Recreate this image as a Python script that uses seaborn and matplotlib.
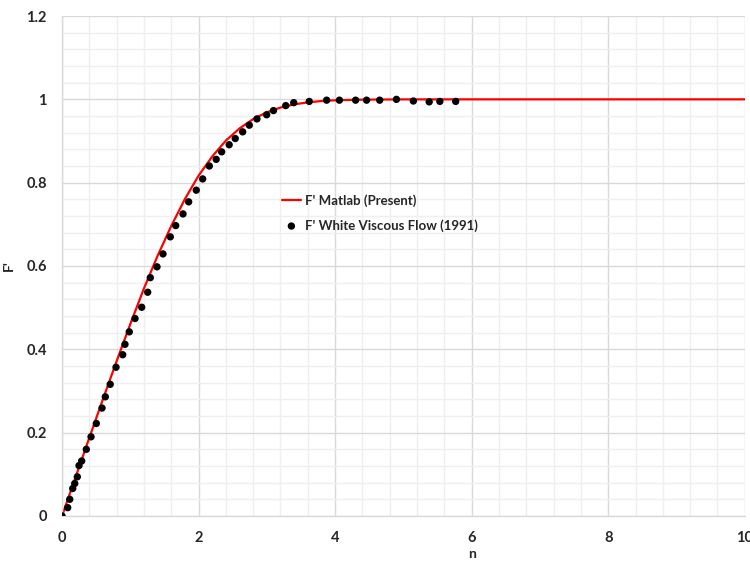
import matplotlib
matplotlib.use("Agg")
import numpy as np
import pandas as pd
import seaborn as sns
import matplotlib.pyplot as plt
from matplotlib.ticker import MultipleLocator

# F' from the present (Matlab) solution
eta_line = [0.0, 0.2, 0.4, 0.6, 0.8, 1.0, 1.2, 1.4, 1.6, 1.8, 2.0, 2.2, 2.4, 2.6,
            2.8, 3.0, 3.2, 3.4, 3.6, 3.8, 4.0, 4.4, 5.0, 6.0, 7.0, 8.0, 9.0, 10.0]
fp_line = [0.0, 0.0939, 0.1877, 0.2807, 0.3717, 0.4606, 0.5462, 0.6245, 0.6961,
           0.7608, 0.8168, 0.8628, 0.9010, 0.9302, 0.9526, 0.9689, 0.9803, 0.9879,
           0.9928, 0.9959, 0.9977, 0.9993, 0.9999, 1.0, 1.0, 1.0, 1.0, 1.0]

# F' from White, Viscous Flow (1991), the black dots
eta_pts = [0.0, 0.083, 0.113, 0.157, 0.186, 0.224, 0.249, 0.288, 0.356, 0.425,
           0.502, 0.586, 0.634, 0.706, 0.791, 0.889, 0.922, 0.985, 1.069, 1.167,
           1.255, 1.293, 1.391, 1.479, 1.586, 1.665, 1.772, 1.855, 1.966, 2.060,
           2.157, 2.258, 2.338, 2.448, 2.537, 2.646, 2.743, 2.855, 2.997, 3.097,
           3.277, 3.394, 3.621, 3.876, 4.063, 4.300, 4.461, 4.653, 4.898, 5.146,
           5.378, 5.534, 5.766]
fp_pts = [0.0, 0.020, 0.040, 0.066, 0.078, 0.094, 0.121, 0.132, 0.160, 0.190,
          0.222, 0.259, 0.286, 0.316, 0.357, 0.387, 0.412, 0.442, 0.474, 0.501,
          0.537, 0.572, 0.598, 0.629, 0.670, 0.697, 0.725, 0.754, 0.782, 0.809,
          0.840, 0.856, 0.874, 0.891, 0.906, 0.922, 0.938, 0.953, 0.963, 0.973,
          0.985, 0.992, 0.995, 0.998, 0.998, 0.998, 0.998, 0.998, 1.000, 0.996,
          0.994, 0.995, 0.995]

line_df = pd.DataFrame({"eta": eta_line, "fp": fp_line})
pts_df = pd.DataFrame({"eta": eta_pts, "fp": fp_pts})

sns.set_style("whitegrid")
plt.rcParams['font.family'] = ['Lato', 'DejaVu Sans']

fig = plt.figure(figsize=(7.5, 5.62), dpi=100)
ax = fig.add_axes([0.0827, 0.0819, 0.9103, 0.8896])

sns.lineplot(data=line_df, x="eta", y="fp", color="#ff0000", linewidth=1.6,
             label="F' Matlab (Present)", ax=ax)
sns.scatterplot(data=pts_df, x="eta", y="fp", color="black", s=28,
                edgecolor="none", label="F' White Viscous Flow (1991)", ax=ax, zorder=3)

ax.set_xlim(0, 10)
ax.set_ylim(0, 1.2)
ax.xaxis.set_major_locator(MultipleLocator(2))
ax.xaxis.set_minor_locator(MultipleLocator(0.4))
ax.yaxis.set_major_locator(MultipleLocator(0.2))
ax.yaxis.set_minor_locator(MultipleLocator(0.04))
ax.set_yticks([0, 0.2, 0.4, 0.6, 0.8, 1, 1.2])
ax.set_yticklabels(["0", "0.2", "0.4", "0.6", "0.8", "1", "1.2"])

ax.grid(which="major", color="#d9d9d9", linewidth=1.0)
ax.grid(which="minor", color="#efefef", linewidth=1.0)
ax.set_axisbelow(True)
for side in ["top", "right"]:
    ax.spines[side].set_visible(False)
for side in ["left", "bottom"]:
    ax.spines[side].set_color("#d9d9d9")
    ax.spines[side].set_linewidth(1.0)

ax.tick_params(which="major", length=5, color="#d9d9d9", labelsize=10.5, pad=6)
ax.tick_params(which="minor", length=0)
for lbl in ax.get_xticklabels() + ax.get_yticklabels():
    lbl.set_fontweight("bold")

ax.set_xlabel("n", fontsize=10, fontweight="bold", labelpad=2)
ax.xaxis.set_label_coords(0.6, -0.065)
ax.set_ylabel("F'", fontsize=10, fontweight="bold", labelpad=8)

ax.legend(loc="center left", bbox_to_anchor=(0.305, 0.606), frameon=False,
          prop={"weight": "bold", "size": 9.5}, handlelength=1.4,
          handletextpad=0.3, labelspacing=0.9)

fig.savefig("out.png", dpi=100)
